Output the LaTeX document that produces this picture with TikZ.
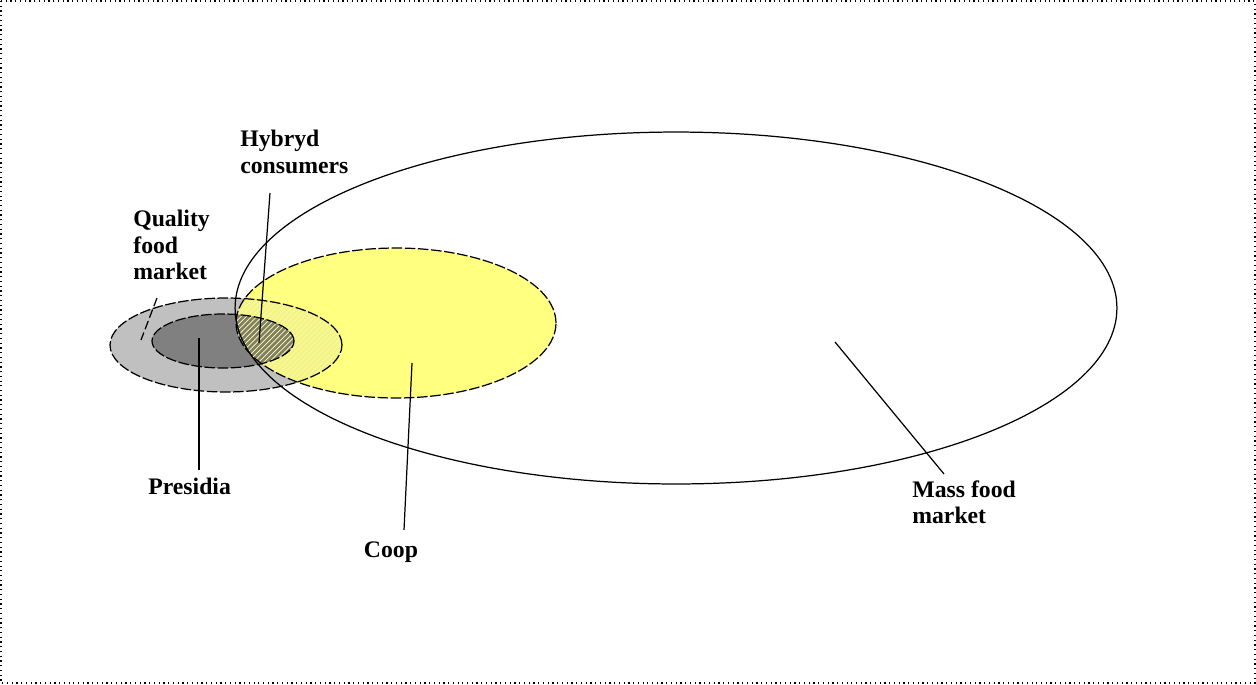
\documentclass[tikz,border=0pt]{standalone}
\usepackage{fontspec}
\setmainfont{Liberation Serif}
\usepackage{tikz}
\usetikzlibrary{patterns,positioning}

\definecolor{coopyellow}{RGB}{255,255,128}
\definecolor{qualitygrey}{RGB}{192,192,192}
\definecolor{presidiagrey}{RGB}{128,128,128}

\begin{document}
\begin{tikzpicture}[x=0.02cm,y=-0.02cm,
label/.style={font=\fontsize{13.5}{15}\selectfont\bfseries,align=left,inner sep=0pt},
rim/.style={draw=black,line width=0.7pt,dash pattern=on 6pt off 1.5pt},
leader/.style={draw=black,line width=0.7pt},]
\useasboundingbox (0,0) rectangle (1256,684);
\draw[dotted,line width=0.7pt] (1,1) rectangle (1255,683);
% centres
\coordinate (mass) at (676,308);
\coordinate (coop) at (396,323);
\coordinate (quality) at (226,345);
\coordinate (presidia) at (223,341);
% fills
\fill[coopyellow] (coop) ellipse [x radius=3.2cm, y radius=1.5cm];
\fill[qualitygrey] (quality) ellipse [x radius=2.32cm, y radius=0.94cm];
\fill[presidiagrey] (presidia) ellipse [x radius=1.42cm, y radius=0.54cm];
\begin{scope}
  \clip (coop) ellipse [x radius=3.2cm, y radius=1.5cm];
  \fill[coopyellow!80!qualitygrey] (quality) ellipse [x radius=2.32cm, y radius=0.94cm];
  \fill[pattern=north east lines,pattern color=coopyellow!90!white] (quality) ellipse [x radius=2.32cm, y radius=0.94cm];
  \fill[presidiagrey!75!olive] (presidia) ellipse [x radius=1.42cm, y radius=0.54cm];
  \fill[pattern=north east lines,pattern color=coopyellow!50!white] (presidia) ellipse [x radius=1.42cm, y radius=0.54cm];
\end{scope}
% outlines
\draw[rim] (coop) ellipse [x radius=3.2cm, y radius=1.5cm];
\draw[rim] (quality) ellipse [x radius=2.32cm, y radius=0.94cm];
\draw[rim] (presidia) ellipse [x radius=1.42cm, y radius=0.54cm];
\draw[line width=0.7pt] (mass) ellipse [x radius=8.82cm, y radius=3.52cm];
% labels
\node[label,anchor=west] (hybryd) at (240,152) {Hybryd\\consumers};
\node[label,anchor=west] (qualitytext) at (133,245) {Quality\\food\\market};
\node[label,anchor=west] (presidiatext) at (148,486) {Presidia};
\node[label] (cooptext) at (391,552) {Coop};
\node[label,anchor=west] (masstext) at (912,502) {Mass food\\market};
% leaders
\coordinate (hybrydtop) at (270,193);
\coordinate (hybrydend) at (259,343);
\coordinate (qualitytop) at (157,298);
\coordinate (qualityend) at (141,340);
\coordinate (presidiatop) at (199,338);
\coordinate (presidiaend) at (199,470);
\coordinate (cooptop) at (412,363);
\coordinate (coopend) at (404,530);
\coordinate (masstop) at (835,342);
\coordinate (massend) at (944,474);
\draw[leader] (hybrydtop) -- (hybrydend);
\draw[leader,dash pattern=on 5pt off 2pt] (qualitytop) -- (qualityend);
\draw[leader] (presidiatop) -- (presidiaend);
\draw[leader] (cooptop) -- (coopend);
\draw[leader] (masstop) -- (massend);
\end{tikzpicture}
\end{document}
